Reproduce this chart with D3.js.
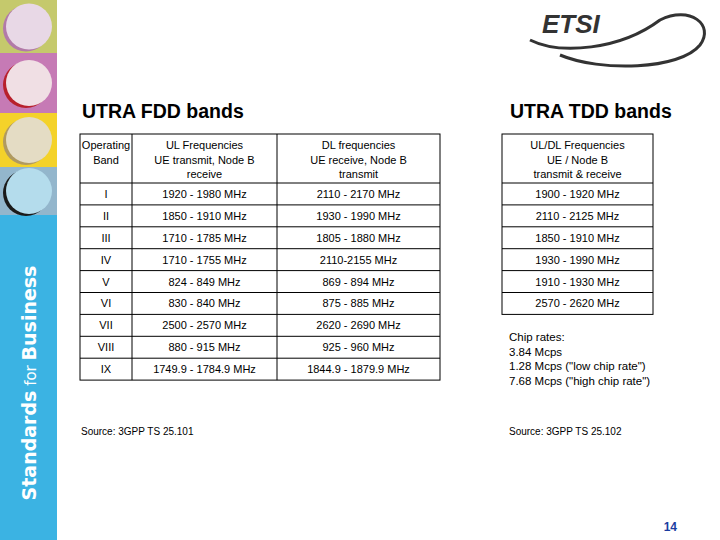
<!DOCTYPE html>
<html><head><meta charset="utf-8">
<script src="https://cdn.jsdelivr.net/npm/d3@7"></script>
<style>body{margin:0;background:#fff}svg{display:block;font-family:"Liberation Sans",Arial,sans-serif}</style>
</head><body><svg id="c" width="720" height="540"></svg>
<script>
var fddHeader = ['Operating\nBand', 'UL Frequencies\nUE transmit, Node B\nreceive', 'DL frequencies\nUE receive, Node B\ntransmit'];
var fddBands = ['I','II','III','IV','V','VI','VII','VIII','IX'];
var fddUL = ['1920 - 1980 MHz','1850 - 1910 MHz','1710 - 1785 MHz','1710 - 1755 MHz','824 - 849 MHz','830 - 840 MHz','2500 - 2570 MHz','880 - 915 MHz','1749.9 - 1784.9 MHz'];
var fddDL = ['2110 - 2170 MHz','1930 - 1990 MHz','1805 - 1880 MHz','2110-2155 MHz','869 - 894 MHz','875 - 885 MHz','2620 - 2690 MHz','925 - 960 MHz','1844.9 - 1879.9 MHz'];
var tddHeader = ['UL/DL Frequencies\nUE / Node B\ntransmit & receive'];
var tddFreq = ['1900 - 1920 MHz','2110 - 2125 MHz','1850 - 1910 MHz','1930 - 1990 MHz','1910 - 1930 MHz','2570 - 2620 MHz'];
var chipRates = ['Chip rates:','3.84 Mcps','1.28 Mcps ("low chip rate")','7.68 Mcps ("high chip rate")'];
var sideColors = ['#c5c96c','#c67ab5','#f4d22a','#93b6cc','#3bb3e3'];

var svg = d3.select('#c');
// sidebar
var sideY = d3.scaleOrdinal().domain(d3.range(5)).range([0,53,113,167,215]);
var sideEnd = [53,113,167,215,540];
svg.selectAll('rect.side').data(sideColors).enter().append('rect')
  .attr('x',0).attr('width',57).attr('y',function(d,i){return sideY(i);})
  .attr('height',function(d,i){return sideEnd[i]-sideY(i);}).attr('fill',function(d){return d;});
var globes = [['#e8d8e6','#b27aa8'],['#f0dfe4','#b8202c'],['#e4dcc4','#b09a60'],['#b4dcec','#1a1a1a']];
globes.forEach(function(g,i){
  var cy=(sideY(i)+sideEnd[i])/2;
  svg.append('circle').attr('cx',26).attr('cy',cy+2).attr('r',23).attr('fill',g[1]);
  svg.append('circle').attr('cx',29).attr('cy',cy).attr('r',23).attr('fill',g[0]);
});
var st = svg.append('text').attr('transform','translate(36,383) rotate(-90)').attr('text-anchor','middle')
  .attr('fill','#fff').attr('font-family','Verdana,"DejaVu Sans",sans-serif').attr('font-size',19);
st.append('tspan').attr('font-weight','bold').text('Standards');
st.append('tspan').attr('font-size',15).text(' for ');
st.append('tspan').attr('font-weight','bold').text('Business');

// ETSI logo
svg.append('text').attr('x',542).attr('y',33).attr('font-size',26).attr('font-weight','bold')
  .attr('font-style','italic').attr('fill','#333').text('ETSI');
svg.append('path').attr('d','M530,40 C560,55 620,50 660,20 C690,5 715,25 700,45 C680,70 600,72 560,55')
  .attr('fill','none').attr('stroke','#333').attr('stroke-width',3);

// titles
svg.append('text').attr('x',82).attr('y',118).attr('font-size',19.5).attr('font-weight','bold').text('UTRA FDD bands');
svg.append('text').attr('x',510).attr('y',118).attr('font-size',19.5).attr('font-weight','bold').text('UTRA TDD bands');

function table(x0, cols, header, rows){
  var g = svg.append('g');
  var xs = [x0].concat(cols);
  var y = d3.scaleBand().domain(d3.range(rows.length)).range([183, 183+rows.length*21.9]);
  var bottom = y.range()[1];
  g.append('rect').attr('x',x0).attr('y',134).attr('width',xs[xs.length-1]-x0).attr('height',bottom-134)
    .attr('fill','none').attr('stroke','#000');
  xs.slice(1,-1).forEach(function(x){g.append('line').attr('x1',x).attr('x2',x).attr('y1',134).attr('y2',bottom).attr('stroke','#000');});
  d3.range(rows.length).forEach(function(i){g.append('line').attr('x1',x0).attr('x2',xs[xs.length-1]).attr('y1',y(i)).attr('y2',y(i)).attr('stroke','#000');});
  header.forEach(function(h,c){
    var cx=(xs[c]+xs[c+1])/2;
    h.split('\n').forEach(function(l,k){
      g.append('text').attr('x',cx).attr('y',149+k*14.5).attr('text-anchor','middle').attr('font-size',11).text(l);
    });
  });
  rows.forEach(function(r,i){
    r.forEach(function(v,c){
      g.append('text').attr('x',(xs[c]+xs[c+1])/2).attr('y',y(i)+y.bandwidth()/2+4).attr('text-anchor','middle').attr('font-size',11).text(v);
    });
  });
}
table(80,[132,277,440],fddHeader,fddBands.map(function(b,i){return [b,fddUL[i],fddDL[i]];}));
table(502,[653],tddHeader,tddFreq.map(function(f){return [f];}));

chipRates.forEach(function(t,i){
  svg.append('text').attr('x',509).attr('y',341+i*14.5).attr('font-size',11.5).text(t);
});
svg.append('text').attr('x',81).attr('y',435).attr('font-size',10).text('Source: 3GPP TS 25.101');
svg.append('text').attr('x',509).attr('y',435).attr('font-size',10).text('Source: 3GPP TS 25.102');
svg.append('text').attr('x',677).attr('y',531).attr('text-anchor','end').attr('font-size',12).attr('font-weight','bold').attr('fill','#1a3ca0').text('14');
</script></body></html>
